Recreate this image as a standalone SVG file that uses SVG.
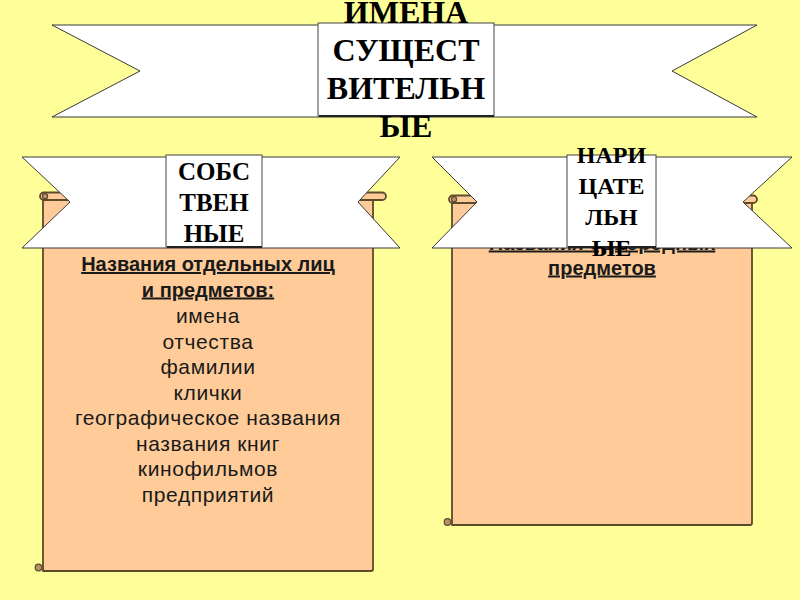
<svg xmlns="http://www.w3.org/2000/svg" width="800" height="600" viewBox="0 0 800 600">
<style>
.bg{fill:#FFFF99}
.scroll{fill:#FFCC99;stroke:#5C4A2C;stroke-width:1.8;stroke-linejoin:round}
.curl{fill:#B8906A;stroke:#5C4A2C;stroke-width:1.2}
.ribbon{fill:#FFFFFF;stroke:#3A3A3A;stroke-width:1}
.box{fill:#FFFFFF;stroke:#444444;stroke-width:1}
.shadow{stroke:#222;stroke-width:2}
.title{font-family:"Liberation Serif","DejaVu Serif",serif;font-weight:bold;fill:#000;text-anchor:middle}
.body{font-family:"Liberation Sans",Arial,sans-serif;font-size:21px;letter-spacing:0.6px;fill:#1a1a1a;text-anchor:middle}
.head{font-size:20px;letter-spacing:0;font-weight:bold;text-decoration:underline}
</style>
<rect class="bg" x="0" y="0" width="800" height="600"/>

<g id="left-scroll">
  <path class="scroll" d="M43,197 V571 H371 Q373,571 373,569 V197 Z"/>
  <rect class="scroll" x="40" y="192.5" width="346" height="7.5" rx="3.75"/>
  <circle class="curl" cx="45" cy="196.3" r="2.6"/>
  <circle class="curl" cx="38.5" cy="567.5" r="3.3"/>
  <text class="body head" x="208" y="271">Названия отдельных лиц</text>
  <text class="body head" x="208" y="296.5">и предметов:</text>
  <text class="body" x="208" y="323">имена</text>
  <text class="body" x="208" y="348.5">отчества</text>
  <text class="body" x="208" y="374">фамилии</text>
  <text class="body" x="208" y="399.5">клички</text>
  <text class="body" x="208" y="425">географическое названия</text>
  <text class="body" x="208" y="450.5">названия книг</text>
  <text class="body" x="208" y="476">кинофильмов</text>
  <text class="body" x="208" y="501.5">предприятий</text>
</g>

<g id="right-scroll">
  <path class="scroll" d="M452,200 V525 H750 Q752,525 752,523 V200 Z"/>
  <rect class="scroll" x="449" y="195.5" width="308" height="7.5" rx="3.75"/>
  <circle class="curl" cx="454" cy="199.3" r="2.6"/>
  <circle class="curl" cx="447.5" cy="522" r="3.3"/>
  <text class="body head" x="602" y="249.5">Названия однородных</text>
  <text class="body head" x="602" y="274.5">предметов</text>
</g>

<g id="top-banner">
  <polygon class="ribbon" points="52,25 757,25 672,71 757,117 52,117 140,71"/>
  <rect class="box" x="318" y="23" width="176" height="93"/>
  <line class="shadow" x1="319" y1="116" x2="494" y2="116"/>
  <g class="title" font-size="32">
    <text x="406" y="23">ИМЕНА</text>
    <text x="406" y="61">СУЩЕСТ</text>
    <text x="406" y="99">ВИТЕЛЬН</text>
    <text x="406" y="137">ЫЕ</text>
  </g>
</g>

<g id="left-banner">
  <polygon class="ribbon" points="22,157 400,157 358,202 400,248 22,248 70,202"/>
  <rect class="box" x="166" y="155" width="96" height="92"/>
  <line class="shadow" x1="167" y1="247" x2="262" y2="247"/>
  <g class="title" font-size="25">
    <text x="214" y="180">СОБС</text>
    <text x="214" y="211">ТВЕН</text>
    <text x="214" y="242">НЫЕ</text>
  </g>
</g>

<g id="right-banner">
  <polygon class="ribbon" points="432,157 792,157 743,202 792,248 432,248 477,202"/>
  <rect class="box" x="567" y="155" width="89" height="92"/>
  <line class="shadow" x1="568" y1="247" x2="656" y2="247"/>
  <g class="title" font-size="24">
    <text x="611.5" y="163">НАРИ</text>
    <text x="611.5" y="194">ЦАТЕ</text>
    <text x="611.5" y="225">ЛЬН</text>
    <text x="611.5" y="256">ЫЕ</text>
  </g>
</g>
</svg>
